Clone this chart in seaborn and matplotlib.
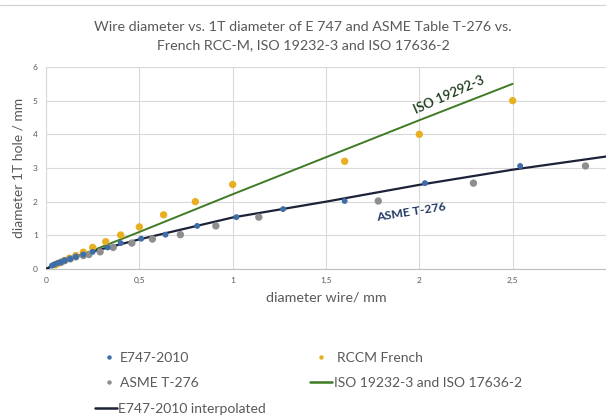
import matplotlib
matplotlib.use("Agg")
import matplotlib.pyplot as plt
from matplotlib.lines import Line2D
from matplotlib.ticker import FuncFormatter
import seaborn as sns
import pandas as pd

# E747-2010 points (wire diameter, 1T hole diameter) in mm
e747_wire = [0.032, 0.04, 0.05, 0.064, 0.08, 0.1, 0.13, 0.16, 0.2, 0.25, 0.33, 0.4,
             0.51, 0.64, 0.81, 1.02, 1.27, 1.6, 2.03, 2.54]
e747_hole = [0.1, 0.12, 0.15, 0.18, 0.2, 0.25, 0.3, 0.36, 0.43, 0.51, 0.64, 0.77,
             0.9, 1.02, 1.28, 1.54, 1.78, 2.02, 2.55, 3.06]

# ASME T-276
asme_wire = [0.08, 0.1, 0.13, 0.16, 0.2, 0.23, 0.29, 0.36, 0.46, 0.57, 0.72, 0.91,
             1.14, 1.78, 2.29, 2.89]
asme_hole = [0.2, 0.25, 0.3, 0.36, 0.4, 0.43, 0.51, 0.64, 0.77, 0.89, 1.02, 1.28,
             1.54, 2.02, 2.55, 3.06]

# RCCM French
rccm_wire = [0.05, 0.063, 0.08, 0.1, 0.125, 0.16, 0.2, 0.25, 0.32, 0.4, 0.5, 0.63,
             0.8, 1.0, 1.6, 2.0, 2.5]
rccm_hole = [0.125, 0.16, 0.2, 0.25, 0.32, 0.4, 0.5, 0.64, 0.81, 1.01, 1.25, 1.61,
             2.0, 2.51, 3.2, 4.0, 5.0]

# ISO 19232-3 and ISO 17636-2 line
iso_wire = [0, 0.5, 1.0, 1.5, 2.0, 2.5]
iso_hole = [0, 1.1, 2.22, 3.32, 4.42, 5.5]

# E747-2010 interpolated line
interp_wire = [0, 0.05, 0.1, 0.25, 0.5, 1.0, 1.5, 2.0, 2.5, 3.05]
interp_hole = [0, 0.15, 0.27, 0.52, 0.88, 1.53, 2.0, 2.5, 2.95, 3.38]

c_blue = "#3d6ea8"
c_gray = "#8e8e8e"
c_yellow = "#e8b020"
c_green = "#3f7a24"
c_navy = "#1c2238"
c_text = "#595959"

W, H = 606, 419

sns.set_style("white")
plt.rcParams['font.family'] = ['Lato', 'DejaVu Sans']

fig = plt.figure(figsize=(W / 100, H / 100), dpi=100)
ax = fig.add_axes([46 / W, 1 - 269 / H, 1 - 46 / W, (269 - 67) / H])

sns.lineplot(x=iso_wire, y=iso_hole, ax=ax, color=c_green, linewidth=1.4, zorder=3)
sns.lineplot(x=interp_wire, y=interp_hole, ax=ax, color=c_navy, linewidth=1.6, zorder=3)
sns.scatterplot(x=rccm_wire, y=rccm_hole, ax=ax, color=c_yellow, s=28, edgecolor="none", zorder=4)
sns.scatterplot(x=asme_wire, y=asme_hole, ax=ax, color=c_gray, s=28, edgecolor="none", zorder=4)
sns.scatterplot(x=e747_wire, y=e747_hole, ax=ax, color=c_blue, s=18, edgecolor="none", zorder=5)

ax.set_xlim(0, 3.0)
ax.set_ylim(0, 6)
ax.set_xticks([0, 0.5, 1, 1.5, 2, 2.5])
ax.set_yticks([0, 1, 2, 3, 4, 5, 6])
ax.xaxis.set_major_formatter(FuncFormatter(lambda v, p: f"{v:g}".replace(".", ",")))
ax.tick_params(axis="both", labelsize=6, colors=c_text, length=0, pad=6)
ax.grid(True, color="#d9d9d9", linewidth=0.8)
ax.set_axisbelow(True)
for side in ["top", "right"]:
    ax.spines[side].set_visible(False)
ax.spines["left"].set_color("#d9d9d9")
ax.spines["bottom"].set_color("#bfbfbf")

ax.set_xlabel("diameter wire/ mm", fontsize=10.3, color=c_text, labelpad=5)
ax.set_ylabel("diameter 1T hole / mm", fontsize=10, color=c_text, labelpad=6)

fig.suptitle("Wire diameter vs. 1T diameter of E 747 and ASME Table T-276 vs.\n"
             "French RCC-M, ISO 19232-3 and ISO 17636-2",
             fontsize=10.3, color=c_text, y=0.95, linespacing=1.6)

# labels along the lines
ax.text(2.16, 5.18, "ISO 19292-3", fontsize=9.5, color="#1b3a1b", rotation=24,
        ha="center", va="center", rotation_mode="anchor", fontweight="semibold")
ax.text(1.955, 1.70, "ASME T-276", fontsize=8.8, color="#1f3864", rotation=9,
        ha="center", va="center", rotation_mode="anchor", fontweight="bold")

# faint frame line at the top of the picture
fig.add_artist(Line2D([0, 1], [0.988, 0.988], color="#d0d0d0", linewidth=0.8))


def add_entry(handle, label, left_px, y_px, hlen, hpad):
    leg = fig.legend([handle], [label], loc="center left",
                     bbox_to_anchor=(left_px / W, 1 - y_px / H),
                     frameon=False, fontsize=10, handlelength=hlen,
                     handletextpad=hpad, borderpad=0, borderaxespad=0,
                     labelcolor=c_text)
    return leg


dot = dict(marker="o", linestyle="none", markersize=3.2, markeredgewidth=0)
add_entry(Line2D([], [], color=c_blue, **dot), "E747-2010", 105.5, 358, 0.5, 0.55)
add_entry(Line2D([], [], color=c_gray, **dot), "ASME T-276", 105.5, 383, 0.5, 0.55)
add_entry(Line2D([], [], color=c_navy, linewidth=1.8), "E747-2010 interpolated", 95, 409, 1.58, 0.07)
add_entry(Line2D([], [], color=c_yellow, **dot), "RCCM French", 317.5, 358, 0.5, 0.9)
add_entry(Line2D([], [], color=c_green, linewidth=1.8), "ISO 19232-3 and ISO 17636-2", 310, 383, 1.58, 0.15)

fig.savefig("out.png", dpi=100)
